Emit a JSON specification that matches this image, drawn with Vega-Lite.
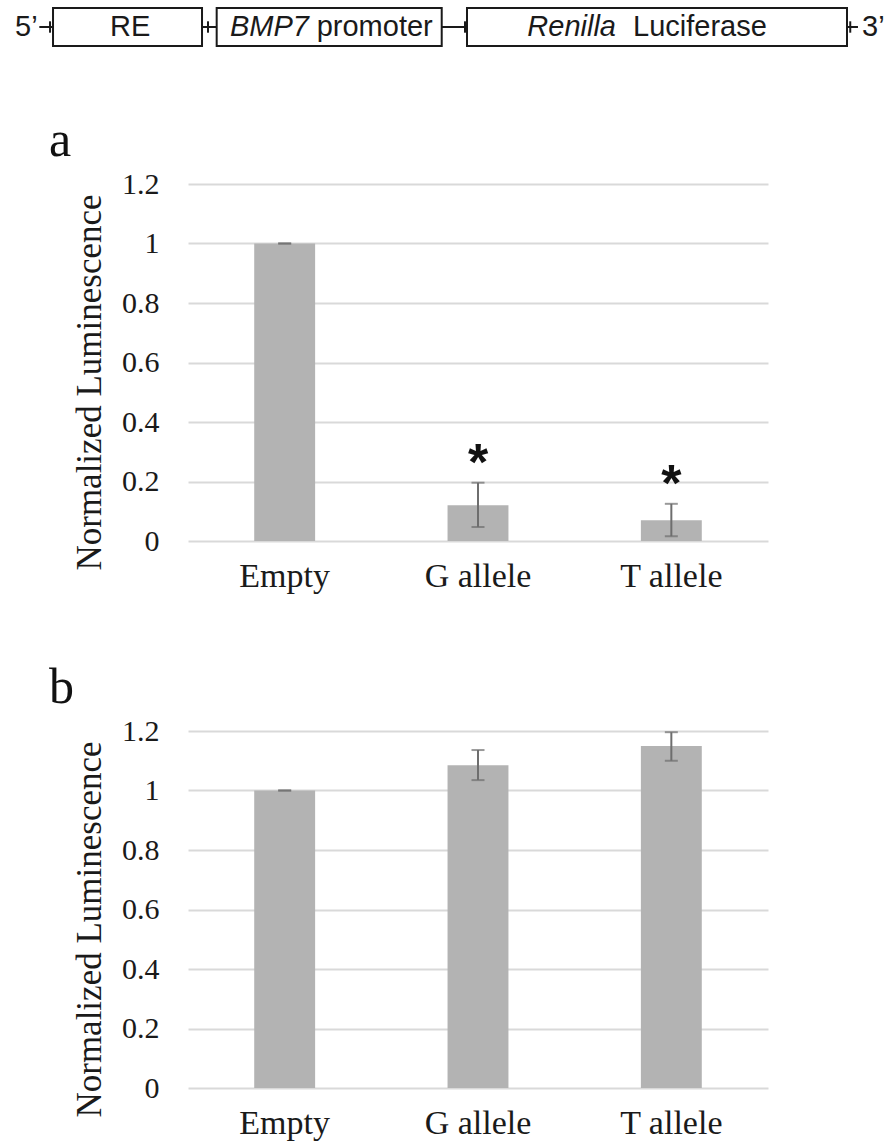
{
  "$schema": "https://vega.github.io/schema/vega-lite/v6.json",
  "background": "white",
  "padding": {"left": 15, "top": 7, "right": 2, "bottom": 2},
  "bounds": "flush",
  "spacing": 190,
  "config": {
    "view": {"stroke": null},
    "axisX": {"labelFont": "Liberation Serif", "labelFontSize": 34, "labelColor": "#1a1a1a", "labelAngle": 0, "labelPadding": 18, "ticks": false, "domain": false, "grid": false},
    "axisY": {"labelFont": "Liberation Serif", "labelFontSize": 30, "labelColor": "#1a1a1a", "labelPadding": 29, "ticks": false, "domain": false, "grid": true, "gridColor": "#d9d9d9", "gridWidth": 2, "titleFont": "Liberation Serif", "titleFontSize": 35, "titleFontWeight": "normal", "titleColor": "#1a1a1a", "titlePadding": 14, "titleY": 198}
  },
  "datasets": {
    "panelA": [
      {"construct": "Empty", "mean": 1.0, "lo": 1.0, "hi": 1.0, "sig": ""},
      {"construct": "G allele", "mean": 0.12, "lo": 0.047, "hi": 0.196, "sig": "*"},
      {"construct": "T allele", "mean": 0.07, "lo": 0.016, "hi": 0.125, "sig": "*"}
    ],
    "panelB": [
      {"construct": "Empty", "mean": 1.0, "lo": 1.0, "hi": 1.0},
      {"construct": "G allele", "mean": 1.085, "lo": 1.035, "hi": 1.136},
      {"construct": "T allele", "mean": 1.15, "lo": 1.10, "hi": 1.196}
    ],
    "boxes": [
      {"part": "RE", "start": 4.90, "end": 21.87},
      {"part": "BMP7 promoter", "start": 23.54, "end": 49.17},
      {"part": "Renilla Luciferase", "start": 52.05, "end": 95.33}
    ],
    "links": [
      {"from": 3.34, "to": 4.90},
      {"from": 21.87, "to": 23.54},
      {"from": 49.17, "to": 52.05},
      {"from": 95.33, "to": 96.58}
    ],
    "tickmarks": [
      {"at": 4.56},
      {"at": 22.55},
      {"at": 51.82},
      {"at": 95.7}
    ],
    "plainLabels": [
      {"label": "5’", "pos": 0.57},
      {"label": "RE", "pos": 11.39},
      {"label": "promoter", "pos": 34.93},
      {"label": "Luciferase", "pos": 70.96},
      {"label": "3’", "pos": 97.04}
    ],
    "italicLabels": [
      {"label": "BMP7", "pos": 25.06},
      {"label": "Renilla", "pos": 58.92}
    ]
  },
  "vconcat": [
    {
      "width": 580,
      "height": 357,
      "title": {"text": "a", "anchor": "start", "frame": "group", "dx": -139, "dy": 48, "offset": -151, "baseline": "alphabetic", "fontSize": 50, "font": "Liberation Serif", "fontWeight": "normal", "color": "#111111"},
      "layer": [
        {
          "data": {"name": "panelA"},
          "layer": [
            {
              "mark": {"type": "bar", "color": "#b3b3b3"},
              "encoding": {
                "x": {"field": "construct", "type": "nominal", "sort": ["Empty", "G allele", "T allele"], "title": null, "scale": {"paddingInner": 0.685, "paddingOuter": 0.3425}},
                "y": {"field": "mean", "type": "quantitative", "title": "Normalized Luminescence", "scale": {"domain": [0, 1.2], "nice": false}, "axis": {"values": [0, 0.2, 0.4, 0.6, 0.8, 1, 1.2], "format": "~g"}}
              }
            },
            {
              "mark": {"type": "rule", "color": "#6e6e6e", "strokeWidth": 2},
              "encoding": {
                "x": {"field": "construct", "type": "nominal", "sort": ["Empty", "G allele", "T allele"], "title": null},
                "y": {"field": "lo", "type": "quantitative", "title": "Normalized Luminescence"},
                "y2": {"field": "hi"}
              }
            },
            {
              "mark": {"type": "tick", "color": "#6e6e6e", "size": 13, "thickness": 2},
              "encoding": {
                "x": {"field": "construct", "type": "nominal", "sort": ["Empty", "G allele", "T allele"], "title": null},
                "y": {"field": "lo", "type": "quantitative", "title": "Normalized Luminescence"}
              }
            },
            {
              "mark": {"type": "tick", "color": "#6e6e6e", "size": 13, "thickness": 2},
              "encoding": {
                "x": {"field": "construct", "type": "nominal", "sort": ["Empty", "G allele", "T allele"], "title": null},
                "y": {"field": "hi", "type": "quantitative", "title": "Normalized Luminescence"}
              }
            },
            {
              "mark": {"type": "text", "font": "Liberation Sans", "fontWeight": "bold", "fontSize": 52, "baseline": "alphabetic", "align": "center", "color": "#111111", "dy": -3},
              "encoding": {
                "x": {"field": "construct", "type": "nominal", "sort": ["Empty", "G allele", "T allele"], "title": null},
                "y": {"field": "hi", "type": "quantitative", "title": "Normalized Luminescence"},
                "text": {"field": "sig"}
              }
            }
          ]
        },
        {
          "layer": [
            {
              "data": {"name": "links"},
              "mark": {"type": "rule", "color": "#1a1a1a", "strokeWidth": 2},
              "encoding": {
                "x": {"field": "from", "type": "quantitative", "axis": null, "scale": {"domain": [0, 100], "range": [-178, 700], "nice": false, "zero": false}},
                "x2": {"field": "to"},
                "y": {"datum": 0.5, "type": "quantitative", "axis": null, "scale": {"domain": [0, 1], "range": [-138, -176], "nice": false, "zero": false}}
              }
            },
            {
              "data": {"name": "tickmarks"},
              "mark": {"type": "rule", "color": "#1a1a1a", "strokeWidth": 2},
              "encoding": {
                "x": {"field": "at", "type": "quantitative", "axis": null, "scale": {"domain": [0, 100], "range": [-178, 700], "nice": false, "zero": false}},
                "y": {"datum": 0.35, "type": "quantitative", "axis": null, "scale": {"domain": [0, 1], "range": [-138, -176], "nice": false, "zero": false}},
                "y2": {"datum": 0.65}
              }
            },
            {
              "data": {"name": "boxes"},
              "mark": {"type": "rect", "fill": "white", "stroke": "#1a1a1a", "strokeWidth": 2},
              "encoding": {
                "x": {"field": "start", "type": "quantitative", "axis": null, "scale": {"domain": [0, 100], "range": [-178, 700], "nice": false, "zero": false}},
                "x2": {"field": "end"},
                "y": {"datum": 0, "type": "quantitative", "axis": null, "scale": {"domain": [0, 1], "range": [-138, -176], "nice": false, "zero": false}},
                "y2": {"datum": 1}
              }
            },
            {
              "data": {"name": "plainLabels"},
              "mark": {"type": "text", "font": "Liberation Sans", "fontSize": 29, "align": "left", "baseline": "middle", "color": "#1a1a1a"},
              "encoding": {
                "x": {"field": "pos", "type": "quantitative", "axis": null, "scale": {"domain": [0, 100], "range": [-178, 700], "nice": false, "zero": false}},
                "y": {"datum": 0.5, "type": "quantitative", "axis": null, "scale": {"domain": [0, 1], "range": [-138, -176], "nice": false, "zero": false}},
                "text": {"field": "label"}
              }
            },
            {
              "data": {"name": "italicLabels"},
              "mark": {"type": "text", "font": "Liberation Sans", "fontSize": 29, "fontStyle": "italic", "align": "left", "baseline": "middle", "color": "#1a1a1a"},
              "encoding": {
                "x": {"field": "pos", "type": "quantitative", "axis": null, "scale": {"domain": [0, 100], "range": [-178, 700], "nice": false, "zero": false}},
                "y": {"datum": 0.5, "type": "quantitative", "axis": null, "scale": {"domain": [0, 1], "range": [-138, -176], "nice": false, "zero": false}},
                "text": {"field": "label"}
              }
            }
          ]
        }
      ],
      "resolve": {"scale": {"x": "independent", "y": "independent"}, "axis": {"x": "independent", "y": "independent"}}
    },
    {
      "width": 580,
      "height": 357,
      "title": {"text": "b", "anchor": "start", "frame": "group", "dx": -139, "dy": 50, "offset": 13, "baseline": "alphabetic", "fontSize": 50, "font": "Liberation Serif", "fontWeight": "normal", "color": "#111111"},
      "data": {"name": "panelB"},
      "layer": [
        {
          "mark": {"type": "bar", "color": "#b3b3b3"},
          "encoding": {
            "x": {"field": "construct", "type": "nominal", "sort": ["Empty", "G allele", "T allele"], "title": null, "scale": {"paddingInner": 0.685, "paddingOuter": 0.3425}},
            "y": {"field": "mean", "type": "quantitative", "title": "Normalized Luminescence", "scale": {"domain": [0, 1.2], "nice": false}, "axis": {"values": [0, 0.2, 0.4, 0.6, 0.8, 1, 1.2], "format": "~g"}}
          }
        },
        {
          "mark": {"type": "rule", "color": "#6e6e6e", "strokeWidth": 2},
          "encoding": {
            "x": {"field": "construct", "type": "nominal", "sort": ["Empty", "G allele", "T allele"], "title": null},
            "y": {"field": "lo", "type": "quantitative", "title": "Normalized Luminescence"},
            "y2": {"field": "hi"}
          }
        },
        {
          "mark": {"type": "tick", "color": "#6e6e6e", "size": 13, "thickness": 2},
          "encoding": {
            "x": {"field": "construct", "type": "nominal", "sort": ["Empty", "G allele", "T allele"], "title": null},
            "y": {"field": "lo", "type": "quantitative", "title": "Normalized Luminescence"}
          }
        },
        {
          "mark": {"type": "tick", "color": "#6e6e6e", "size": 13, "thickness": 2},
          "encoding": {
            "x": {"field": "construct", "type": "nominal", "sort": ["Empty", "G allele", "T allele"], "title": null},
            "y": {"field": "hi", "type": "quantitative", "title": "Normalized Luminescence"}
          }
        }
      ]
    }
  ]
}
